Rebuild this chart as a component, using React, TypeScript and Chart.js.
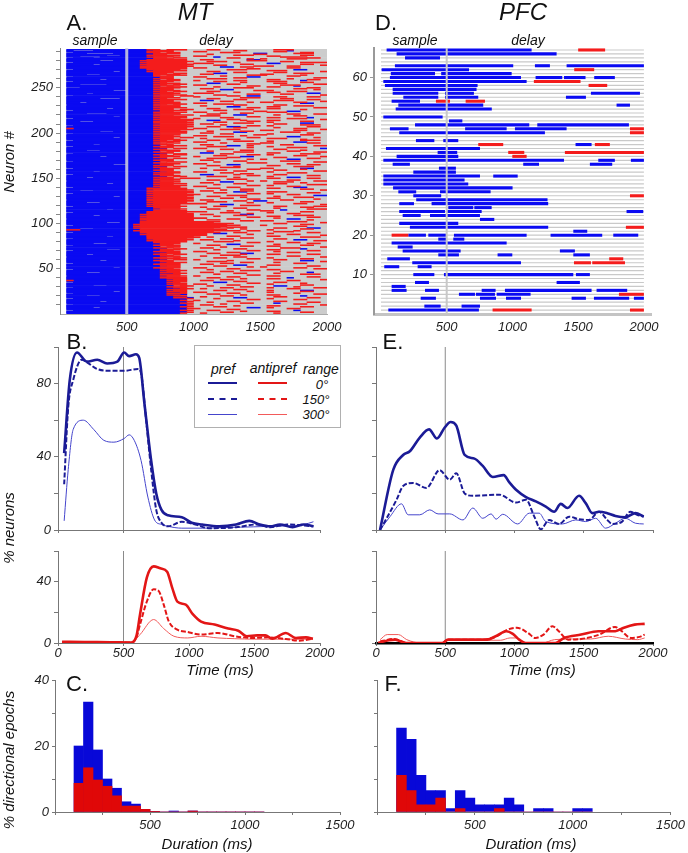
import React, { useEffect, useRef } from "react";
import { Chart, registerables } from "chart.js";

Chart.register(...registerables);

const W = 688;
const H = 853;
const FONT = "'Liberation Sans', Arial, sans-serif";

/* ---------------- Panel A : MT directional epochs ----------------
   one string per neuron, top (neuron 292) -> bottom (neuron 1);
   each char = one 50 ms bin starting at 0 ms. b = pref (blue), r = antipref (red), . = none */
const aBinMs = 50;
const aRowStart = 50;
const aRowEnd = 2000;
const aRows: string[] = [
  ".bbbbbbbbb bbbrr.rrr. ..rr...... ..rrr.....",
  ".b...bbbbb bbbbrrr... ......rr.. ....b.....",
  ".bbbbbbbbb bbbrrrr... rr........ ..rr......",
  "..bbbbbbbb bbbrr.rr.. ....rrr... ......rr..",
  ".bbb....bb bbbbrrrr.. .........b b....rrr..",
  ".bbbbbbbbb bbbbrr.... ..r......r r.........",
  ".bbbbbb..b bbbrrrrr.. ......rrr. ......rr..",
  ".bb...bbbb bbbbrrr... rr........ .rr.......",
  ".bbbbbbbbb bbbrrrrr.. ...b...... ...rrrr...",
  "..bbb.bbbb bbbbrr.rr. .....rr... .......rr.",
  ".bbbbbbbbb bbbbrrr... ........r. r...rrr...",
  ".bbbbbbbbb bbbrrrrrr. .rr.....bb ..........",
  ".bbbbb..bb bbrrrrrrr. ........rr r.........",
  ".bbbbbbbbb bbbrrrrrrr ..rrr..... ...rr.....",
  "..bbbbbbbb bbrrrrrrr. ......r... ......rrrr",
  ".bbbbbbbbb bbbrrrrrr. rrr....... .bb.......",
  ".bbbb.bbbb bbrrrrrrrr .......rr. ......rr..",
  ".bbbbbbbbb bbbrrrrrr. ...rr..... .........r",
  ".bbbbbbbbb bbrrrrrrrr .........r rr..rr....",
  ".bb..bbbbb bbbrrrrrr. ....bb.rr. ..........",
  ".bbbbbbbbb bbrrrrrrr. rr........ ....rr....",
  ".bbbbbbbbb bbbrrrrrr. ........rr ..........",
  "..bbbbbbbb bbbrrrrr.. .....rrr.. .....bb...",
  ".bbbbbbbbb bbbbrrrrr. .......... .rrr......",
  ".bbbbbbb.b bbbrrrr... ..rr...... .........r",
  ".bbbbbbbbb bbbbrrr... ......rr.. ..rr......",
  ".bbbbbbbbb bbbbrr.rr. ...bb..... .....rrr..",
  ".bbb..bbbb bbbbrrrr.. .rr....... rr........",
  ".bbbbbbbbb bbbbr.rrr. ........rr r.....r...",
  ".bbbbbbbbb bbbbrrr... ....r..... ....rr....",
  "..bbbbbbbb bbbbbrr... rr......bb ..........",
  ".bbbbbbbbb bbbbbrr... ......rr.. ........rr",
  ".bbbbbbbbb bbbbrrr... ..rrr..... ....r.....",
  ".bbbbb.bbb bbbbb.rr.. .......... .rr....rr.",
  ".bbbbbbbbb bbbbrrrr.. r.....rr.. ......b...",
  "..bbbbbbbb bbbbbrr... ...rr..... .rrr......",
  ".bbbbbbbbb bbbbrr.... .......r.. ......rr..",
  ".bbbbbbbbb bbbbbrrr.. ..bb...... ..rr......",
  ".bb....bbb bbbbrr.rr. .....rr... ........rr",
  ".bbbbbbbbb bbbbbrrr.. rr........ ...rrr....",
  ".bbbbbbbbb bbbbrrr... ........rr .....b....",
  ".bbbbbbbbb bbbbb.rrr. ...r...... .rr.......",
  "...bbbbbbb bbbbrrrr.. ......rrr. .......rr.",
  ".bbbbbbbbb bbbbbrr... .rr....... .....rr...",
  ".bbbbbbbbb bbbbrrr... ....bb.... ........r.",
  ".bbbbbbb.. bbbbbrrr.. .........r rr........",
  ".bbbbbbbbb bbbbrr.rr. ..rr...... ....rrr...",
  ".bbbbbbbbb bbbbbrr... ......r... .rr.......",
  ".bbb.bbbbb bbbbrrrr.. rrr....... .......bb.",
  ".bbbbbbbbb bbbbbrr... ........rr ...rr.....",
  ".bbbbbbbbb bbbbrrrrr. ...rr..... .........r",
  "..bbbbbbbb bbbbbrr.rr .....rr.bb ..........",
  ".bbbbbbbbb bbbbrrr... r......... ..rr...rr.",
  ".bbbbbbbbb bbbbbrrr.. .......rrr ..........",
  ".bbbbb...b bbbbrr.... ..rr...... ...rr.....",
  ".bbbbbbbbb bbbbbrrrr. ......rr.. .......rr.",
  ".bbbbbbbbb bbbbrrr... .bb....... ..rrr.....",
  ".bbbbbbbbb bbbbbrr... ....rr.... .........r",
  ".bb.bbbbbb bbbbrrrr.. ........r. rr...rr...",
  ".bbbbbbbbb bbbbbrrr.. rr........ ......bb..",
  ".bbbbbbbbb bbbbrr.rr. ...rrr.... ..........",
  "..bbbbbbbb bbbbbrrr.. ......rr.. ..rr......",
  ".bbbbbbbbb bbbbrrrr.. .r........ .....rrr..",
  ".bbbbbbbbb bbbbbrrr.. .....bb... .rr.......",
  ".bbbbbbbbb bbbbrrrrr. ........rr ........rr",
  ".bbbbbb.bb bbbbbrr... ..rr...... .rr.......",
  ".bbbbbbbbb bbbbrrr.rr ......rrr. ......r...",
  "..bbbbbbbb bbbbbrrrr. ...rr..... ..........",
  ".bbbbbbbbb bbbbbrr... .........r r...bb....",
  ".bbbbbbbbb bbbbrrrrr. rr........ .rrr......",
  ".bbb...bbb bbbbbrrr.. ....r..rr. ..........",
  ".bbbbbbbbb bbbbrrrr.. ..rr...... ....rr..rr",
  ".bbbbbbbbb bbbbbrrrrr ......bb.. ..r.......",
  ".bbbbbbbbb bbbbrrr... .rrr...... .....rr...",
  ".bbbbbbb.b bbbbbrrrr. ........rr ..........",
  ".bbbbbbbbb bbbbrrrrr. ....rr.... .rr....b..",
  "..bbbbbbbb bbbbbrrr.. r......... ....rrr...",
  ".bbbbbbbbb bbbbrrrrrr .....rr... .........r",
  ".bbbbbbbbb bbbbbrrrrr ..bb...r.. .rr.......",
  ".bb..bbbbb bbbbrrrrr. ........rr ......rr..",
  ".bbbbbbbbb bbbbrrrrrr ...rr..... .r........",
  ".bbbbbbbbb bbbbbrrrr. ......rrr. ......bb..",
  ".bbbbbbbbb bbbbrrrrrr .rr....... ..rr......",
  ".bbbbbbbbb bbbbbrrrrr ....r..... ......rrr.",
  "..bbbbbbbb bbbbrrrrr. ........rr .r........",
  ".bbbbbbbbb bbbbbrrrrr ..rr.bb... .......rr.",
  ".bbbbbbbbb bbbbrrrrr. ......rr.. ..r.......",
  ".rbbbbbbbb bbbbbrrrr. rr........ .....rr...",
  ".bbbbbbbbb bbbbrrrrrr ....rrr... .........r",
  ".bbbbbbbbb bbbbbrrr.. .......... rr...rr...",
  ".bbbbb..bb bbbbrrrrr. ..r....rr. ..........",
  ".bbbbbbbbb bbbbbrrrr. ......bb.. ...rrr....",
  ".bbbbbbbbb bbbbrrrrr. .rr....... .......rr.",
  "..bbbbbbbb bbbbbrrr.. ....rr.... .r........",
  ".bbbbbbbbb bbbbrrrr.. .........r r.....rr..",
  ".bbbbbbbbb bbbbbrr... rr.....r.. ..........",
  ".bbbbbbbbb bbbbrrrr.. ...rrr.... ....bb....",
  ".bbbbbbb.b bbbbbrr.rr ........rr ........r.",
  ".bbbbbbbbb bbbbrrr... .r........ .rrr......",
  ".bbbbbbbbb bbbbbrrr.. .....rr... ......r...",
  "..bbbbbbbb bbbbrr.rr. ..rr...... ......rrr.",
  ".bbbbbbbbb bbbbbrrr.. ......rrr. .r........",
  ".bbbbbbbbb bbbbrrr... rr........ .....bb...",
  ".bbbbbbbbb bbbbb.rr.. ....r..... rr.....rr.",
  ".bbbbbbbbb bbbbrr.... ........rr ..........",
  ".bbbb.bbbb bbbbbrr... .rr....... ...rr.....",
  ".bbbbbbbbb bbbbb.rrr. .....bb.r. ........rr",
  "..bbbbbbbb bbbbrrr... ..rrr..... .r........",
  ".bbbbbbbbb bbbbbrr... ........r. ....rrr...",
  ".bbbbbbbbb bbbbbb.rr. rr........ .........b",
  ".bbbbbbbbb bbbbrr.... ....rr.... ..rr......",
  ".bbb..bbbb bbbbbrrr.. .......rr. ......r...",
  ".bbbbbbbbb bbbbb.rr.. ..r....... ....rr....",
  ".bbbbbbbbb bbbbrrr... ......rrr. ........rr",
  ".bbbbbbbbb bbbbbrr... .bb....... .rr.......",
  "..bbbbbbbb bbbbbb.rr. ....rr.... ......rrr.",
  ".bbbbbbbbb bbbbrr.rr. ........rr .r........",
  ".bbbbbbbbb bbbbbrr... ...rr..... .....rr...",
  ".bbbbb.bbb bbbbbrrr.. r......bb. .........r",
  ".bbbbbbbbb bbbbrr.... .....rr... ..rr......",
  ".bbbbbbbbb bbbbbb.rr. ..rrr..... .......rr.",
  ".bbbbbbbbb bbbbbrr... ........r. r...bb....",
  ".bbbbbbbbb bbbbrrr... .rr....... ..........",
  "..bbbbbbbb bbbbbrr... ......rr.. ...rrr....",
  ".bbbbbbbbb bbbbb.rrr. ...r...... ........rr",
  ".bbbbbbbbb bbbbrr.... ........rr r.........",
  ".bbbbbbbbb bbbbbrrr.. rr........ ....rr....",
  ".bbbbbbb.. bbbbbrr... .....bb... .......rr.",
  ".bbbbbbbbb bbbbrrr... ..rr...... .rr.......",
  ".bbbbbbbbb bbbbbb.rr. ......r... .....rrr..",
  ".bbbbbbbbb bbbbrr.... ....rrr... ..........",
  "..bbbbbbbb bbbbbrrr.. .r........ rr....bb..",
  ".bbbbbbbbb bbbbbrr... ........rr ......r...",
  ".bbbbbbbbb bbbbrrr... ...rr..... ..rr......",
  ".bbbb.bbbb bbbbbrr... ......rr.. ........rr",
  ".bbbbbbbbb bbbbbbrr.. rr........ .r........",
  ".bbbbbbbbb bbbbrrrr.. ....rr.... ....rrr...",
  ".bbbbbbbbb bbbbbrr... .......rr. ..........",
  "..bbbbbbbb bbbbrrr... .bb...r... ..rr......",
  ".bbbbbbbbb bbbbbrrr.. ........rr .......rr.",
  ".bbbbbbbbb bbbbbb.rr. ..rrr..... .r........",
  ".bbb.bbbbb bbbbrrr... ......r... ....bb....",
  ".bbbbbbbbb bbbbbrr.rr r......... .rr....rr.",
  ".bbbbbbbbb bbbbrrrr.. .....rrr.. ..........",
  ".bbbbbbbbb bbbbbrr... ..rr...... ....rr....",
  "..bbbbbbbb bbbbrrrr.. ........r. r.......rr",
  ".bbbbbbbbb bbbbbrrr.. ....bb.... ..rrr.....",
  ".bbbbbbbbb bbbbrrr... .rr....... ......r...",
  ".bbbbbb.bb bbbbbrrrr. ......rr.. ..rr......",
  ".bbbbbbbbb bbbbrrr... ...r...... .......rrr",
  ".bbbbbbbbb bbbbbrrrr. ........rr .r........",
  ".bbbbbbbbb bbbbrrrr.. rr........ ....rr....",
  "..bbbbbbbb bbbbbrrr.. .....rr... .....bb...",
  ".bbbbbbbbb bbbrrrrrr. ..rr...... .rr.......",
  ".bbbbbbbbb bbbbrrrrr. .......rr. ......rr..",
  ".bbbbbbbbb bbbrrrrrrr ....r..... .........r",
  ".bb..bbbbb bbbbrrrrr. .rr....rr. ..........",
  ".bbbbbbbbb bbbrrrrrrr ......bb.. .rrr......",
  ".bbbbbbbbb bbbbrrrrrr ...rr..... .......rr.",
  "..bbbbbbbb bbbrrrrrr. ........rr .r........",
  ".bbbbbbbbb bbbbrrrrrr r......... ....rr....",
  ".bbbbbbbbb bbbrrrrrrr .....rrr.. ........bb",
  ".bbbbbbb.b bbbbrrrrr. ..rr...... ..r.......",
  ".bbbbbbbbb bbbrrrrrrr .......r.. .....rrr..",
  ".bbbbbbbbb bbbbrrrrrr ....rr.... .rr.......",
  ".bbbbbbbbb bbbrrrrrr. ........rr ........r.",
  "..bbbbbbbb bbbbrrrrrr .rr....... ...rr.....",
  ".bbbbbbbbb bbbrrrrrrr ......rr.b b.........",
  ".bbbbbbbbb bbbbrrrrr. ..rrr..... ......rr..",
  ".bbb..bbbb bbbrrrrrr. ........r. .r........",
  ".bbbbbbbbb bbbbrrrrrr rr........ .....rr...",
  ".bbbbbbbbb bbbrrrrr.. ....bb.... .........r",
  ".bbbbbbbbb bbbbrrrr.. .......rrr ..........",
  "..bbbbbbbb bbbrrrrrr. ...rr..... ..rr....rr",
  ".bbbbbbbbb bbbbrrrr.. .r........ ......rr..",
  ".bbbbbbbbb bbbbbrrr.. ......rr.. ..r.......",
  ".bbbbbb.bb bbbbrrrrr. ..rr...... .......rrr",
  ".bbbbbbbbb bbbbbrrr.. ........rr ...b......",
  ".bbbbbbbbb bbbbrrrrr. .....r.... rr........",
  ".bbbbbbbbb bbbrrrrrrr rr........ ......rr..",
  "..bbbbbbbb bbbrrrrrr. ....rrr... .r........",
  ".bbbbbbbbb bbbrrrrrrr ........r. ....rr....",
  ".bbbbbbbbb bbrrrrrrrr .rr....bb. ..........",
  ".bbbb.bbbb bbbrrrrrrr ......rr.. .....rrr..",
  ".bbbbbbbbb bbrrrrrrrr ...r...... .rr.......",
  ".bbbbbbbbb bbbrrrrrrr ........rr .......rr.",
  ".bbbbbbbbb bbrrrrrrrr rr........ ..r.......",
  "..bbbbbbbb bbbrrrrrrr .....rr... ....bb....",
  ".bbbbbbbbb bbrrrrrrrr ..rr...... .......r..",
  ".bbbbbbbbb bbbrrrrrrr .......rr. rr........",
  ".bbbbbbbbb bbrrrrrrrr rrrr...... ....rrr...",
  ".bbbbbb..b bbrrrrrrrr rrr....... .........r",
  ".bbbbbbbbb bbrrrrrrrr rrrrrr.... ..rr......",
  ".bbbbbbbbb brrrrrrrrr rrrrr..... ......rr..",
  "..bbbbbbbb bbrrrrrrrr rrrrrrr... r.........",
  ".bbbbbbbbb brrrrrrrrr rrrrr..... .....rr...",
  ".bbbbbbbbb bbrrrrrrrr rrrr.rrr.. ..........",
  ".bbbbbbbbb brrrrrrrrr rrrrrr.... ..rr...bb.",
  ".bb..bbbbb bbrrrrrrrr rrr....r.. ......rr..",
  ".rrbbbbbbb bbrrrrrrrr rrrrr..... .r........",
  ".bbbbbbbbb brrrrrrrrr rrrrrrr.rr .....r....",
  ".bbbbbbbbb bbrrrrrrrr rrr....... ..rrr.....",
  "..bbbbbbbb bbrrrrrrrr rrrr..rr.. .......rr.",
  ".bbbbbbbbb bbbrrrrrrr rr.bb..... .r........",
  ".bbbbbbbbb bbrrrrrrrr rr......r. ....rr....",
  ".bbbbbbbbb bbbrrrrrrr rr........ .........r",
  ".bbbbbb.bb bbbrrrrrrr .....rr... .rr.......",
  ".bbbbbbbbb bbbrrrrrrr r.r....... ......rrr.",
  ".bbbbbbbbb bbbbrrrrrr .......rr. ..........",
  "..bbbbbbbb bbbrrrrrr. ....rr.... ..rr......",
  ".bbbbbbbbb bbbbrrrrrr .rr....... .....bb...",
  ".bbbbbbbbb bbbrrrrrr. ......r... ........rr",
  ".bbbbbbbbb bbbbrrrrr. ...rrr.... .r........",
  ".bbbbbbbbb bbbbrrrr.. ........rr ....rr....",
  ".bbbb..bbb bbbbbrrr.. r......... .......rr.",
  ".bbbbbbbbb bbbbbrr... .....bb... ..r.......",
  "..bbbbbbbb bbbbrrrr.. ..rr...... ......rr..",
  ".bbbbbbbbb bbbbb.rr.. .......rr. .rr.......",
  ".bbbbbbbbb bbbbbrrr.. ....r..... .........r",
  ".bbbbbbbbb bbbbrrr... .rr....... ...rrr....",
  ".bbbbbbbbb bbbbbb.rr. ......rr.. ......b...",
  ".bbbbbb..b bbbbbrrr.. ...r...... .rr.......",
  "..bbbbbbbb bbbbbrr... ........rr .......rr.",
  ".bbbbbbbbb bbbbrrrr.. rr........ ..r.......",
  ".bbbbbbbbb bbbbbbrr.. .....rr... ....rr....",
  ".bbbbbbbbb bbbbbrrr.. ..rr...bb. ..........",
  ".bbb.bbbbb bbbbrr.rr. .......r.. .rr....rr.",
  ".bbbbbbbbb bbbbbrr... ....rrr... ..........",
  ".bbbbbbbbb bbbbbbrr.. .r........ ....rr....",
  "..bbbbbbbb bbbbbrrr.. ......rr.. .........r",
  ".bbbbbbbbb bbbbrr.rr. ...rr..... .r........",
  ".bbbbbbbbb bbbbbrrr.. ........rr ......rr..",
  ".bbbbbbbbb bbbbbb.rr. r......... ..rr......",
  ".bbbbb.bbb bbbbrrr... .....r.... ......bb..",
  ".bbbbbbbbb bbbbbrr... ..rrr..... .........r",
  ".bbbbbbbbb bbbbbbrrr. .......rr. ..r.......",
  "..bbbbbbbb bbbbbrrr.. ....rr.... .....rr...",
  ".bbbbbbbbb bbbbrrrr.. .rr....... ..........",
  ".bbbbbbbbb bbbbbrrr.. ......bb.. .rr.......",
  ".bbbbbbbbb bbbbbbrr.. ...rr..... .......rr.",
  ".bbbbbbbbb bbbbbrrr.. ........r. r.........",
  ".bbbbbbb.b bbbbrrrr.. rr........ .....rr...",
  ".bbbbbbbbb bbbbbrr... .....rr... ........rr",
  "..bbbbbbbb bbbbbbrr.. ..r....... .rr.......",
  ".bbbbbbbbb bbbbbrrrr. .......rrr ..........",
  ".bbbbbbbbb bbbbbbrr.. ....rr.... ...rr.....",
  ".bbb..bbbb bbbbbrrr.. .rr....... .......b..",
  ".bbbbbbbbb bbbbbbbrr. ......rr.. ..r.......",
  ".bbbbbbbbb bbbbbrrr.. ...r...... ......rrr.",
  ".bbbbbbbbb bbbbbbrr.. ........rr ..........",
  "..bbbbbbbb bbbbbrrrr. r......... .rr.......",
  ".bbbbbbbbb bbbbbbrr.. .....rr... .......rr.",
  ".bbbbbbbbb bbbbbrrrr. ..rr...... ....b.....",
  ".bbbbbbbbb bbbbbbrrr. .......r.. .rr.......",
  ".bbbbbbbbb bbbbbbbrr. ....rr.... .........r",
  ".rbbbbbbbb bbbbbbrrr. .rr....... ....rr....",
  ".bbbbbbbbb bbbbbbbrr. ......rr.. ..........",
  "..bbbbbbbb bbbbbbrr.. ...bb..... ..rr......",
  ".bbbbbbbbb bbbbbbbrr. ........rr ......r...",
  ".bbbbbbbbb bbbbbbrrr. rr........ .r........",
  ".bbbb..bbb bbbbbbbrr. .....rr... ......rr..",
  ".bbbbbbbbb bbbbbbb.rr ..r....... ..bb......",
  ".bbbbbbbbb bbbbbbrrr. .......rr. .....r....",
  "..bbbbbbbb bbbbbbbrr. ....rr.... .r......rr",
  ".bbbbbbbbb bbbbbbbbrr .r........ ....rr....",
  ".bbbbbbbbb bbbbbbrrr. ......rr.. ..........",
  ".bbbbbbbbb bbbbbbbrr. ...rr..... .r....bb..",
  ".bbbbbbb.b bbbbbbrrr. ........r. ......rr..",
  ".bbbbbbbbb bbbbbbbbr. rr........ .r........",
  "..bbbbbbbb bbbbbbrrr. .....rr... .....r....",
  ".bbbbbbbbb bbbbbbbbb. ..rr...... ........rr",
  ".bbbbbbbbb bbbbbbrr.. .......r.. .rr.......",
  ".bbb..bbbb bbbbbbbrr. ....rr.... ......b...",
  ".bbbbbbbbb bbbbbbbbb. .r........ ..rr......",
  ".bbbbbbbbb bbbbbbbrrb ......bb.. .......rr.",
  "..bbbbbbbb bbbbbbbbbr ...r...... .r........",
  ".bbbbbbbbb bbbbbbbbb. ........rr .....rr...",
  ".bbbbbbbbb bbbbbbbbr. r......... ..........",
  ".bbbbb.bbb bbbbbbbbbr .....rr... ..rr......",
  ".bbbbbbbbb bbbbbbbbb. ..r....... .......rr.",
  ".bbbbbbbbb bbbbbbbbrr .......rr. ..b.......",
  "..bbbbbbbb bbbbbbbbb. ....r..... .....rr...",
  ".bbbbbbbbb bbbbbbbbbr .rr....... .........r",
  ".bbbbbbbbb bbbbbbbbb. ......r... .rr.......",
  ".bbbbbbbbb bbbbbbbbrr ...rr..... ......rr..",
  ".bbbb.bbbb bbbbbbbbb. ........bb .r........",
  ".bbbbbbbbb bbbbbbbbbr r......... ....rr....",
  ".bbbbbbbbb bbbbbbbbb. .....rr... ..........",
  "..bbbbbbbb bbbbbbbbrr ..rr...... .....b....",
  ".bbbbbbbbb bbbbbbbbb. .......r.. .rr.......",
  ".bbbbbbbbb bbbbbbbbbr ....rr.... ......rr..",
  ".bbbbbbbbb bbbbbbbbr. .r........ ..r.......",
];
const aMaxY = 294;
const aTicksX = [500, 1000, 1500, 2000];
const aTicksY = [10, 20, 30, 40, 50, 60, 70, 80, 90, 100, 110, 120, 130, 140, 150, 160, 170, 180, 190, 200, 210, 220, 230, 240, 250, 260, 270, 280, 290];
const aLabelsY = [50, 100, 150, 200, 250];
const sampleOffset = 500;

/* ---------------- Panel D : PFC directional epochs ([neuron, start ms, end ms]) ---------------- */
const dRowCount = 67;
const dRowStart = 0;
const dRowEnd = 2000;
const dBlue: number[][] = [
  [67, 43, 1146], [66, 119, 1336], [65, 183, 449],
  [63, 106, 1006], [63, 1171, 1285], [63, 1412, 2000],
  [62, 5, 670], [61, 75, 411], [61, 458, 994],
  [60, 68, 1065], [60, 1176, 1379], [60, 1392, 1556], [60, 1622, 1779],
  [59, 18, 1108], [58, 30, 735], [57, 89, 727],
  [56, 89, 436], [56, 487, 707], [56, 1597, 1970],
  [55, 170, 436], [55, 487, 740], [55, 1407, 1559],
  [54, 81, 297], [53, 132, 778], [53, 1792, 1894], [52, 112, 843],
  [50, 18, 469], [49, 517, 619], [48, 259, 1128], [48, 1189, 1886],
  [47, 68, 210], [47, 640, 956], [47, 1019, 1412], [46, 139, 1247],
  [44, 266, 406], [44, 474, 588], [43, 1480, 1602], [42, 38, 753],
  [41, 431, 580], [40, 119, 588],
  [39, 18, 1392], [39, 1653, 1779], [39, 1901, 2000],
  [38, 89, 220], [38, 1082, 1202], [38, 1589, 1759],
  [37, 441, 570], [36, 246, 570], [35, 18, 753], [35, 854, 1040],
  [34, 18, 636], [33, 18, 664], [32, 92, 1001],
  [31, 132, 268], [31, 449, 834], [30, 246, 458], [29, 268, 1267],
  [28, 139, 251], [28, 385, 1272], [27, 512, 702], [27, 710, 842],
  [26, 139, 487], [26, 504, 766], [26, 1868, 1995],
  [25, 165, 302], [25, 373, 753], [24, 753, 862], [23, 139, 588],
  [22, 220, 1272], [21, 1463, 1569],
  [20, 208, 342], [20, 360, 494], [20, 555, 1108], [20, 1290, 1683], [20, 1767, 1957],
  [19, 436, 499], [19, 550, 634], [18, 81, 956], [17, 127, 241],
  [16, 165, 606], [16, 1361, 1475],
  [15, 436, 593], [15, 887, 999], [15, 1463, 1589],
  [14, 48, 220], [13, 238, 1065], [12, 25, 139], [12, 279, 385],
  [10, 246, 406], [10, 479, 1463], [10, 1483, 1589],
  [8, 259, 365], [8, 1336, 1513], [7, 81, 188],
  [6, 81, 195], [6, 335, 441], [6, 766, 872], [6, 943, 1602], [6, 1640, 1873],
  [5, 593, 715], [5, 722, 867], [5, 880, 1138],
  [4, 302, 418], [4, 753, 875], [4, 951, 1065], [4, 1450, 1559], [4, 1620, 1888], [4, 1924, 2000],
  [2, 330, 454], [2, 613, 753], [1, 56, 745],
];
const dRed: number[][] = [
  [67, 1500, 1705], [62, 1470, 1622], [59, 1163, 1518], [58, 1579, 1721],
  [54, 418, 525], [54, 644, 791], [47, 1894, 2000], [46, 1894, 2000],
  [43, 740, 930], [43, 1627, 1741], [41, 968, 1090], [41, 1399, 2000],
  [40, 999, 1108], [30, 1894, 2000], [22, 1863, 2000], [20, 81, 208],
  [14, 1736, 1843], [13, 1468, 1597], [13, 1607, 1856], [5, 1810, 2000],
  [1, 849, 1146], [1, 1894, 2000],
];
const dTicksY = [10, 20, 30, 40, 50, 60];
const dTicksX = [500, 1000, 1500, 2000];

/* ---------------- Panels B / E : % neurons, [time ms, %] ---------------- */
const bPref0 = [[47, 42], [90, 82], [145, 97], [220, 92], [300, 93], [375, 91], [453, 92], [505, 97], [543, 95], [595, 96], [620, 94], [660, 69], [711, 38], [750, 20], [790, 11], [840, 8], [945, 7], [1020, 4], [1100, 3], [1230, 2], [1360, 3], [1460, 5], [1540, 3], [1620, 2], [1695, 3], [1790, 1.5], [1875, 3], [1950, 2]];
const bPref150 = [[47, 25], [78, 67], [116, 82], [181, 93], [233, 91], [298, 88], [375, 87], [505, 87], [610, 88], [636, 85], [673, 60], [711, 33], [750, 11], [790, 4], [840, 2], [945, 4.5], [1050, 3], [1150, 1], [1360, 1.5], [1515, 3], [1620, 1.5], [1750, 3], [1950, 2]];
const bPref300 = [[47, 5], [78, 33], [116, 55], [194, 60], [272, 55], [350, 49], [427, 48], [505, 50], [543, 52], [582, 49], [634, 38], [686, 18], [737, 5.5], [790, 3], [840, 2], [945, 1], [1100, 1], [1360, 1.5], [1620, 2], [1875, 3], [1950, 4.5]];
const bAnti0 = [[31, 0.8], [200, 0.6], [400, 0.5], [560, 0.3], [600, 5], [626, 18.5], [678, 42.6], [730, 50], [781, 48.7], [833, 46.5], [872, 36], [911, 27], [975, 25], [1027, 19], [1092, 14], [1195, 12], [1299, 9.4], [1376, 8], [1441, 4.4], [1520, 5], [1583, 5], [1635, 2.8], [1739, 6.5], [1816, 3.3], [1894, 3.7], [1946, 2.8]];
const bAnti150 = [[31, 0.5], [560, 0.3], [600, 4], [626, 12], [678, 27], [730, 35], [768, 34], [807, 25], [846, 14], [911, 8.7], [990, 7.2], [1092, 5.5], [1221, 6.5], [1350, 4.4], [1480, 3.3], [1610, 3.7], [1740, 2.6], [1842, 1.5], [1946, 2.8]];
const bAnti300 = [[31, 0.3], [560, 0.2], [626, 5.5], [730, 15.3], [807, 9.4], [885, 4.4], [990, 3.3], [1092, 4.4], [1221, 3.3], [1350, 2.8], [1500, 2.5], [1700, 2.5], [1946, 2.5]];

const ePref0 = [[29, 0], [125, 33], [196, 41], [244, 43], [316, 50.5], [383, 55], [440, 50], [496, 56], [539, 59], [580, 57], [640, 41], [711, 39], [771, 35], [843, 29], [922, 30], [963, 26], [1011, 22], [1083, 18], [1154, 15.6], [1226, 12.8], [1286, 10], [1334, 14.3], [1382, 12], [1466, 18.7], [1514, 14.7], [1562, 9.2], [1610, 10], [1670, 9.2], [1729, 7.7], [1801, 7], [1873, 9.2], [1933, 7.3]];
const ePref150 = [[29, 0], [77, 6.4], [148, 16.5], [196, 24], [268, 25.7], [364, 23], [460, 32.7], [532, 27.5], [580, 31], [640, 20], [699, 18.7], [891, 19.3], [1011, 15], [1083, 16.5], [1143, 7.3], [1190, 0.4], [1250, 5.5], [1322, 3.3], [1394, 7.3], [1466, 5.9], [1538, 5.5], [1610, 10], [1670, 5.5], [1705, 3.3], [1777, 4.6], [1837, 10], [1885, 8.3], [1933, 7.3]];
const ePref300 = [[29, 0], [101, 7.3], [184, 14.3], [232, 8.3], [316, 8.3], [388, 11], [448, 8.8], [532, 8.8], [628, 5.5], [699, 12], [771, 6.4], [831, 8.8], [867, 5.9], [915, 8.6], [1023, 3.3], [1107, 9.2], [1178, 9.2], [1226, 4.6], [1346, 3.3], [1442, 5.5], [1514, 4.6], [1586, 6.4], [1658, 1], [1729, 3.7], [1801, 6.4], [1873, 3.7], [1933, 3.3]];
const eAnti0 = [[15, 0], [93, 1.8], [139, 2.2], [216, 0], [480, 0], [520, 2.2], [802, 2.2], [864, 4.4], [941, 7.7], [988, 6], [1034, 2.2], [1080, 0], [1296, 0], [1358, 3.3], [1481, 5.5], [1605, 7.7], [1728, 7.7], [1790, 10], [1867, 12], [1940, 12.5]];
const eAnti150 = [[30, 1], [125, 2.6], [231, 0], [480, 0], [520, 2.2], [774, 2.2], [871, 4.4], [952, 8.8], [1016, 10], [1097, 6.6], [1150, 3.3], [1210, 5.5], [1274, 11], [1320, 7.7], [1387, 2.2], [1480, 2.6], [1613, 5.5], [1726, 10.5], [1774, 7.7], [1839, 3.3], [1903, 4], [1940, 5.5]];
const eAnti300 = [[30, 2.2], [81, 5.5], [161, 5.5], [222, 2.2], [323, 0], [480, 0], [520, 1.8], [900, 1.8], [968, 3.3], [1020, 3.3], [1065, 0], [1200, 0], [1290, 2.2], [1420, 2.6], [1548, 2.6], [1677, 4.4], [1800, 2.6], [1890, 2.2], [1940, 3.3]];

const timeTicks = [0, 500, 1000, 1500, 2000];
const topTicksY = [0, 20, 40, 60, 80, 100];
const topLabelsY = [0, 40, 80];
const botTicksY = [0, 20, 40, 60];
const botLabelsY = [0, 40];

/* ---------------- Panels C / F : % directional epochs per 50 ms duration bin ---------------- */
const histCenters = [125, 175, 225, 275, 325, 375, 425, 475, 525, 575, 625, 675, 725, 775, 825, 875, 925, 975, 1025, 1075];
const cBlue = [20, 33.3, 18.8, 10, 7.2, 3.1, 2.4, 0.8, 0.2, 0, 0.3, 0, 0.3, 0, 0, 0, 0, 0, 0, 0];
const cRed = [8.7, 13.4, 9.7, 7.8, 4.9, 1.8, 1.8, 0.8, 0.2, 0, 0, 0, 0.3, 0, 0, 0, 0, 0, 0, 0];
const fBlue = [25.4, 22, 11.1, 6.5, 6.5, 1, 6.5, 4.2, 2.2, 2.2, 2.2, 4.2, 2.2, 0, 1, 1, 0, 0, 1, 1];
const fRed = [11.1, 6.5, 2.2, 2.2, 4.2, 0, 1, 0, 0, 0, 1, 0, 0, 0, 0, 0, 0, 0, 0, 0];
const durTicks = [0, 250, 500, 750, 1000, 1250, 1500];
const durLabels = [500, 1000, 1500];
const histTicksY = [0, 10, 20, 30, 40];
const histLabelsY = [0, 20, 40];

/* ---------------- styling ---------------- */
const BLUE = "#0a0af2";
const RED = "#f41c1c";
const PREF = "#1b1b96";
const PREF_THIN = "#4545cc";
const ANTI = "#e31616";
const ANTI_THIN = "#f25a5a";
const TICK_FONT = { family: FONT, size: 13, style: "italic" as const };
const YW = 40; // width reserved for y-axis boxes
const XH = 24; // height reserved for x-axis boxes

// chart-area edges (left, top, right, bottom) -> layout padding
const pad = (L: number, T: number, R: number, B: number) => ({ left: L - YW, top: T, right: W - R, bottom: H - B - XH });

function linAxis(o: any) {
  const horizontal = o.pos === "bottom";
  const tl = o.tickLen || 0;
  return {
    type: "linear",
    position: o.pos,
    min: o.min,
    max: o.max,
    offset: false,
    afterFit: (s: any) => {
      if (horizontal) s.height = XH;
      else s.width = YW;
    },
    afterBuildTicks: (s: any) => {
      s.ticks = o.ticks.map((v: number) => ({ value: v }));
    },
    grid: { display: true, offset: false, drawOnChartArea: false, drawTicks: tl > 0, tickLength: tl, color: o.tickColor || "#777", lineWidth: 1 },
    border: { display: true, color: o.borderColor || "#777", width: o.borderWidth || 1 },
    ticks: {
      autoSkip: false,
      maxRotation: 0,
      minRotation: 0,
      padding: o.padding ?? 3,
      font: TICK_FONT,
      color: "#1e1e1e",
      callback: (v: any) => (o.labels.indexOf(Number(v)) >= 0 ? String(v) : ""),
    },
  };
}

function baseOptions(padding: any, scales: any, extra: any = {}) {
  return {
    responsive: false,
    animation: false,
    events: [],
    layout: { padding },
    plugins: { legend: { display: false }, tooltip: { enabled: false }, title: { display: false } },
    scales,
    ...extra,
  };
}

function rasterFromStrings(rows: string[], binMs: number, start: number, end: number) {
  const n = rows.length;
  const blue: any[] = [];
  const red: any[] = [];
  const bg: any[] = [];
  rows.forEach((raw, i) => {
    const row = n - i;
    const s = raw.replace(/ /g, "");
    bg.push({ x: [start, end], y: row });
    let j = 0;
    while (j < s.length) {
      const c = s[j];
      let k = j;
      while (k < s.length && s[k] === c) k++;
      if (c === "b") blue.push({ x: [j * binMs, k * binMs], y: row });
      if (c === "r") red.push({ x: [j * binMs, k * binMs], y: row });
      j = k;
    }
  });
  return { blue, red, bg };
}

const barDs = (data: any[], color: string, pct: number, order: number) => ({
  data,
  backgroundColor: color,
  grouped: false,
  barPercentage: pct,
  categoryPercentage: 1,
  borderWidth: 0,
  order,
});

const vline = (x: number, y0: number, y1: number, color: string, width: number, order: number) => ({
  type: "line",
  data: [{ x, y: y0 }, { x, y: y1 }],
  borderColor: color,
  borderWidth: width,
  pointRadius: 0,
  order,
});

const curve = (pts: number[][], color: string, width: number, dash: number[], order: number) => ({
  type: "line",
  data: pts.map(([x, y]) => ({ x, y })),
  borderColor: color,
  borderWidth: width,
  borderDash: dash,
  pointRadius: 0,
  cubicInterpolationMode: "monotone",
  fill: false,
  order,
});

function buildConfigs() {
  const A = rasterFromStrings(aRows, aBinMs, aRowStart, aRowEnd);
  const cfgA = {
    type: "bar",
    data: {
      datasets: [
        vline(sampleOffset, 0, aMaxY, "rgba(212,212,222,0.85)", 3, 0),
        barDs(A.red, RED, 1, 1),
        barDs(A.blue, BLUE, 1, 2),
        barDs(A.bg, "#cccccc", 1, 3),
      ],
    },
    options: baseOptions(
      pad(60, 48, 327, 314),
      {
        x: linAxis({ pos: "bottom", min: 0, max: 2000, ticks: aTicksX, labels: aTicksX, tickLen: 0, borderColor: "#aaa", padding: 6 }),
        y: linAxis({ pos: "left", min: 0, max: aMaxY, ticks: aTicksY, labels: aLabelsY, tickLen: 4, tickColor: "#888", borderColor: "#888", padding: 3 }),
      },
      { indexAxis: "y" }
    ),
  };

  const dBg: any[] = [];
  for (let r = 1; r <= dRowCount; r++) dBg.push({ x: [dRowStart, dRowEnd], y: r });
  const cfgD = {
    type: "bar",
    data: {
      datasets: [
        vline(sampleOffset, 0, dRowCount + 0.5, "#c8c8c8", 2, 0),
        barDs(dRed.map(([r, s, e]) => ({ x: [s, e], y: r })), RED, 0.78, 1),
        barDs(dBlue.map(([r, s, e]) => ({ x: [s, e], y: r })), BLUE, 0.78, 2),
        barDs(dBg, "#c9c9c9", 0.3, 3),
      ],
    },
    options: baseOptions(
      pad(374, 48, 651, 314),
      {
        x: linAxis({ pos: "bottom", min: -53, max: 2054, ticks: dTicksX, labels: dTicksX, tickLen: 0, borderColor: "#c4c4c4", borderWidth: 3, padding: 6 }),
        y: linAxis({ pos: "left", min: 0, max: dRowCount + 0.5, ticks: dTicksY, labels: dTicksY, tickLen: 4, tickColor: "#999", borderColor: "#999", borderWidth: 2, padding: 3 }),
      },
      { indexAxis: "y" }
    ),
  };

  const lineCfg = (padding: any, yMax: number, yTicks: number[], yLabels: number[], xLabels: number[], ds: any[], xBorder = "#777", xBorderW = 1) => ({
    type: "line",
    data: { datasets: [vline(sampleOffset, 0, yMax, "#8a8a8a", 1, 10), ...ds] },
    options: baseOptions(padding, {
      x: linAxis({ pos: "bottom", min: 0, max: 2000, ticks: timeTicks, labels: xLabels, tickLen: 3, borderColor: xBorder, borderWidth: xBorderW, padding: 0 }),
      y: linAxis({ pos: "left", min: 0, max: yMax, ticks: yTicks, labels: yLabels, tickLen: 4, padding: 3 }),
    }),
  });

  const prefSet = (p0: number[][], p150: number[][], p300: number[][]) => [
    curve(p300, PREF_THIN, 1, [], 3),
    curve(p150, PREF, 2, [5, 2], 2),
    curve(p0, PREF, 2.6, [], 1),
  ];
  const antiSet = (p0: number[][], p150: number[][], p300: number[][]) => [
    curve(p300, ANTI_THIN, 1, [], 3),
    curve(p150, ANTI, 2, [5, 2], 2),
    curve(p0, ANTI, 2.6, [], 1),
  ];

  const cfgBtop = lineCfg(pad(58, 347, 320, 530), 100, topTicksY, topLabelsY, [], prefSet(bPref0, bPref150, bPref300));
  const cfgBbot = lineCfg(pad(58, 551, 320, 643), 60, botTicksY, botLabelsY, timeTicks, antiSet(bAnti0, bAnti150, bAnti300));
  const cfgEtop = lineCfg(pad(376, 347, 653, 530), 100, topTicksY, [], [], prefSet(ePref0, ePref150, ePref300));
  const cfgEbot = lineCfg(pad(376, 551, 653, 643), 60, botTicksY, [], timeTicks, antiSet(eAnti0, eAnti150, eAnti300), "#000", 2.5);

  const histCfg = (padding: any, blue: number[], red: number[], yLabels: number[]) => ({
    type: "bar",
    data: {
      datasets: [
        barDs(histCenters.map((x, i) => ({ x, y: red[i] })), "#e00808", 1, 1),
        barDs(histCenters.map((x, i) => ({ x, y: blue[i] })), "#0808d8", 1, 2),
      ],
    },
    options: baseOptions(padding, {
      x: linAxis({ pos: "bottom", min: 0, max: 1500, ticks: durTicks, labels: durLabels, tickLen: 3, padding: 3 }),
      y: linAxis({ pos: "left", min: 0, max: 40, ticks: histTicksY, labels: yLabels, tickLen: 3, padding: 3 }),
    }),
  });
  const cfgC = histCfg(pad(55, 680, 340, 812), cBlue, cRed, histLabelsY);
  const cfgF = histCfg(pad(377, 680, 672, 812), fBlue, fRed, []);

  return [cfgA, cfgD, cfgBtop, cfgBbot, cfgEtop, cfgEbot, cfgC, cfgF];
}

type TextSpec = { t: string; x: number; y: number; size: number; italic?: boolean; rot?: boolean };
const TEXTS: TextSpec[] = [
  { t: "MT", x: 195, y: 12, size: 24, italic: true },
  { t: "PFC", x: 523, y: 12, size: 24, italic: true },
  { t: "A.", x: 77, y: 23, size: 22 },
  { t: "D.", x: 386, y: 23, size: 22 },
  { t: "sample", x: 95, y: 40, size: 14, italic: true },
  { t: "delay", x: 216, y: 40, size: 14, italic: true },
  { t: "sample", x: 415, y: 40, size: 14, italic: true },
  { t: "delay", x: 528, y: 40, size: 14, italic: true },
  { t: "Neuron #", x: 8, y: 162, size: 15, italic: true, rot: true },
  { t: "B.", x: 77, y: 342, size: 22 },
  { t: "E.", x: 393, y: 342, size: 22 },
  { t: "% neurons", x: 8, y: 528, size: 15, italic: true, rot: true },
  { t: "Time (ms)", x: 220, y: 669, size: 15, italic: true },
  { t: "Time (ms)", x: 542, y: 669, size: 15, italic: true },
  { t: "C.", x: 77, y: 684, size: 22 },
  { t: "F.", x: 393, y: 684, size: 22 },
  { t: "% directional epochs", x: 8, y: 760, size: 15, italic: true, rot: true },
  { t: "Duration (ms)", x: 207, y: 843, size: 15, italic: true },
  { t: "Duration (ms)", x: 531, y: 843, size: 15, italic: true },
];

function Txt({ s }: { s: TextSpec }) {
  return (
    <div
      style={{
        position: "absolute",
        left: s.x,
        top: s.y,
        transform: `translate(-50%, -50%)${s.rot ? " rotate(-90deg)" : ""}`,
        fontFamily: FONT,
        fontSize: s.size,
        fontStyle: s.italic ? "italic" : "normal",
        lineHeight: 1,
        whiteSpace: "nowrap",
        color: "#111",
      }}
    >
      {s.t}
    </div>
  );
}

function Legend() {
  const lab = (t: string, x: number, y: number, size = 14) => (
    <div style={{ position: "absolute", left: x, top: y, transform: "translate(-50%, -50%)", fontFamily: FONT, fontStyle: "italic", fontSize: size, lineHeight: 1, whiteSpace: "nowrap", color: "#111" }}>{t}</div>
  );
  const ln = (x: number, y: number, color: string, w: number, dashed: boolean) => (
    <div style={{ position: "absolute", left: x, top: y - w / 2, width: 29, height: 0, borderTop: `${w}px ${dashed ? "dashed" : "solid"} ${color}` }} />
  );
  return (
    <div>
      <div style={{ position: "absolute", left: 194, top: 345, width: 145, height: 81, border: "1px solid #b0b0b0", background: "#fff" }} />
      {lab("pref", 223, 369)}
      {lab("antipref", 273, 368)}
      {lab("range", 321, 369)}
      {ln(208, 383, PREF, 2.5, false)}
      {ln(208, 399, PREF, 2, true)}
      {ln(208, 414, PREF_THIN, 1, false)}
      {ln(258, 383, ANTI, 2.5, false)}
      {ln(258, 399, ANTI, 2, true)}
      {ln(258, 414, ANTI_THIN, 1, false)}
      {lab("0°", 322, 384, 13)}
      {lab("150°", 316, 399, 13)}
      {lab("300°", 316, 414, 13)}
    </div>
  );
}

export default function App() {
  const canvases = useRef<(HTMLCanvasElement | null)[]>([]);
  useEffect(() => {
    const cfgs = buildConfigs();
    const charts = cfgs.map((cfg, i) => new Chart(canvases.current[i] as HTMLCanvasElement, cfg as any));
    return () => charts.forEach((c) => c.destroy());
  }, []);
  return (
    <div style={{ position: "fixed", left: 0, top: 0, width: W, height: H, background: "#fff", overflow: "hidden" }}>
      {Array.from({ length: 8 }).map((_, i) => (
        <canvas
          key={i}
          ref={(el) => {
            canvases.current[i] = el;
          }}
          width={W}
          height={H}
          style={{ position: "absolute", left: 0, top: 0, width: W, height: H }}
        />
      ))}
      <Legend />
      {TEXTS.map((s, i) => (
        <Txt key={i} s={s} />
      ))}
    </div>
  );
}
